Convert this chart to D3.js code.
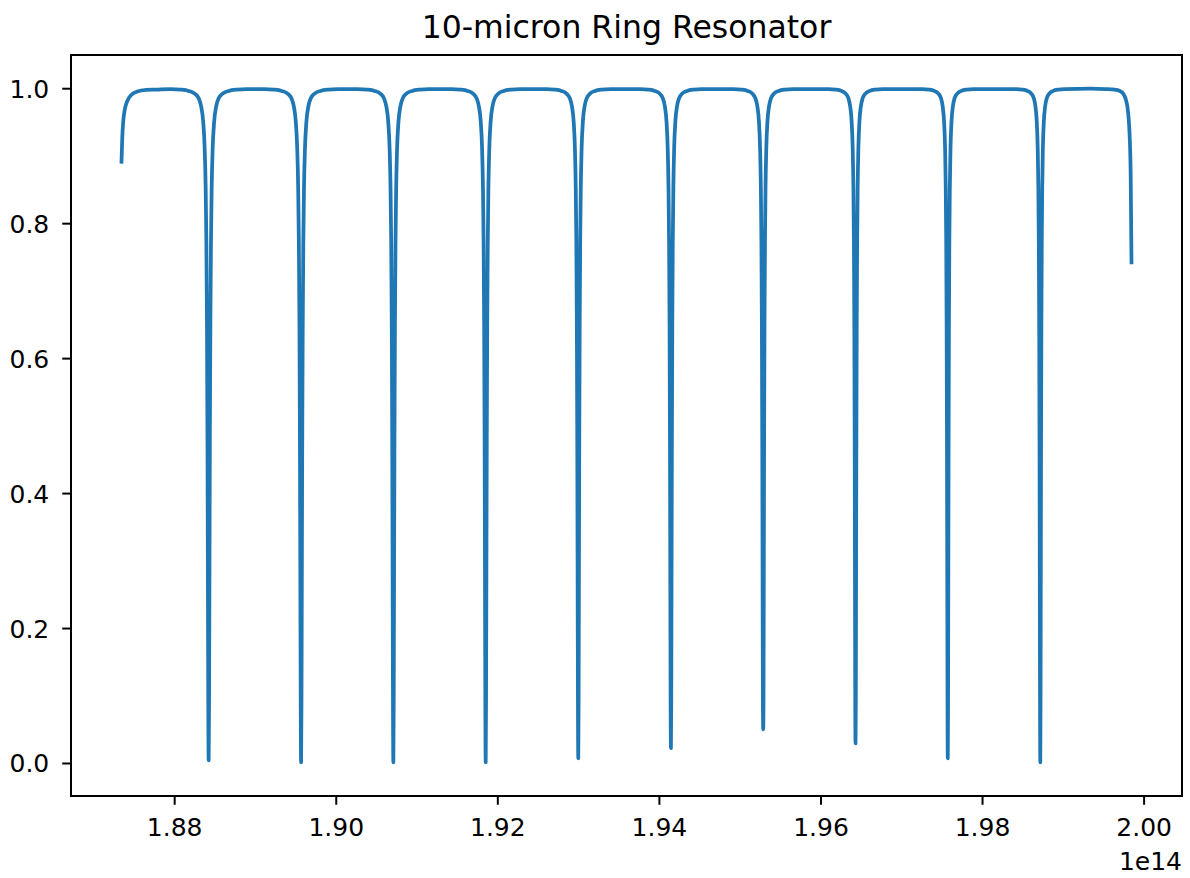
<!DOCTYPE html>
<html>
<head>
<meta charset="utf-8">
<script src="https://cdn.jsdelivr.net/npm/d3@7"></script>
<style>
  html, body { margin: 0; padding: 0; background: #fff; }
  svg { display: block; font-family: "DejaVu Sans", sans-serif; }
</style>
</head>
<body>
<div id="chart"></div>
<script>
// frequency in units of 1e14 Hz, transmission 0..1

// resonance dips
const dipFreq = [1.88427, 1.89571, 1.90713, 1.91856, 1.93002, 1.94149, 1.95291, 1.96434, 1.97576, 1.98721];
const dipMin = [0.004, 0.001, 0.001, 0.001, 0.007, 0.022, 0.050, 0.029, 0.007, 0.001];
// half-width of each dip, GHz (dips get sharper towards high frequency)
const dipHalfWidth = [15.5, 15, 14.5, 14, 13, 12.5, 12, 11, 10.5, 10];

// shape of one dip: offset from centre in half-widths -> transmission
const profileU = [0.32, 0.64, 0.96, 1.36, 1.84, 2.4, 3.2, 4.4, 6, 8, 11.2, 16, 22.4, 30.4];
const profileT = [0.093, 0.29, 0.48, 0.649, 0.772, 0.852, 0.911, 0.951, 0.973, 0.985, 0.992, 0.996, 0.998, 0.9988];

// partial periods at both ends of the sweep
const startFreq = [1.87348, 1.87357, 1.87369, 1.87388, 1.87419, 1.87468, 1.87542, 1.87654, 1.87777];
const startT = [0.891, 0.925, 0.950, 0.968, 0.981, 0.990, 0.995, 0.9975, 0.998];
const endFreq = [1.99345, 1.99530, 1.99642, 1.99704, 1.99747, 1.99778, 1.99800, 1.99815, 1.99827, 1.99840, 1.99850];
const endT = [0.9993, 0.9988, 0.998, 0.996, 0.992, 0.984, 0.972, 0.955, 0.930, 0.870, 0.742];

const xTicks = [1.88, 1.90, 1.92, 1.94, 1.96, 1.98, 2.00];
const yTicks = [0.0, 0.2, 0.4, 0.6, 0.8, 1.0];
const titleText = '10-micron Ring Resonator';
const offsetText = '1e14';

function buildSeries() {
  const pts = startFreq.map((f, i) => [f, startT[i]]);
  dipFreq.forEach((f0, k) => {
    const w = dipHalfWidth[k] * 1e-5; // GHz -> 1e14 Hz
    for (let i = profileU.length - 1; i >= 0; i--) pts.push([f0 - profileU[i] * w, profileT[i]]);
    pts.push([f0, dipMin[k]]);
    for (let i = 0; i < profileU.length; i++) pts.push([f0 + profileU[i] * w, profileT[i]]);
  });
  endFreq.forEach((f, i) => pts.push([f, endT[i]]));
  return pts.sort((a, b) => a[0] - b[0]);
}

function renderChart(container) {
  const width = 1190, height = 878;
  const margin = { top: 55, right: 8, bottom: 82, left: 71 };
  const iw = width - margin.left - margin.right;
  const ih = height - margin.top - margin.bottom;
  const data = buildSeries();

  const svg = d3.select(container).append('svg')
    .attr('width', width)
    .attr('height', height);

  // matplotlib-style 5% margins around the data
  const [x0, x1] = d3.extent(data, d => d[0]);
  const [y0, y1] = d3.extent(data, d => d[1]);
  const px = (x1 - x0) * 0.05, py = (y1 - y0) * 0.05;
  const x = d3.scaleLinear().domain([x0 - px, x1 + px]).range([0, iw]);
  const y = d3.scaleLinear().domain([y0 - py, y1 + py]).range([ih, 0]);

  const g = svg.append('g').attr('transform', `translate(${margin.left},${margin.top})`);

  const line = d3.line()
    .x(d => x(d[0]))
    .y(d => y(d[1]))
    .curve(d3.curveMonotoneX);

  g.append('path')
    .datum(data)
    .attr('fill', 'none')
    .attr('stroke', '#1f77b4')
    .attr('stroke-width', 3.75)
    .attr('stroke-linejoin', 'round')
    .attr('stroke-linecap', 'square')
    .attr('d', line);

  const xAxis = g.append('g')
    .attr('transform', `translate(0,${ih})`)
    .call(d3.axisBottom(x).tickValues(xTicks).tickFormat(d3.format('.2f')).tickSize(8.75).tickSizeOuter(0));
  xAxis.selectAll('text').attr('y', 40).attr('dy', null);

  const yAxis = g.append('g')
    .call(d3.axisLeft(y).tickValues(yTicks).tickFormat(d3.format('.1f')).tickSize(8.75).tickPadding(13).tickSizeOuter(0));
  yAxis.selectAll('text').attr('dy', '0.36em');

  [xAxis, yAxis].forEach(a => {
    a.select('.domain').remove();
    a.selectAll('line').attr('stroke', '#000').attr('stroke-width', 2);
    a.selectAll('text').attr('fill', '#000').style('font-size', '25px').style('font-family', '"DejaVu Sans", sans-serif');
  });

  g.append('rect')
    .attr('width', iw)
    .attr('height', ih)
    .attr('fill', 'none')
    .attr('stroke', '#000')
    .attr('stroke-width', 2);

  svg.append('text')
    .attr('x', margin.left + iw / 2)
    .attr('y', 38)
    .attr('text-anchor', 'middle')
    .style('font-size', '31.5px')
    .text(titleText);

  svg.append('text')
    .attr('x', margin.left + iw)
    .attr('y', 870)
    .attr('text-anchor', 'end')
    .style('font-size', '25px')
    .text(offsetText);
}

renderChart(document.getElementById('chart'));
</script>
</body>
</html>
